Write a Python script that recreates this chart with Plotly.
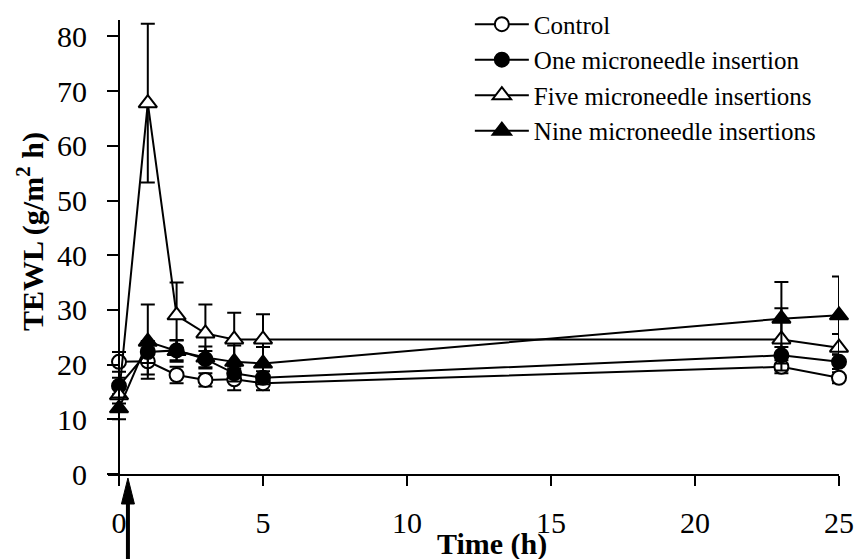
import plotly.graph_objects as go

time_h = [0, 1, 2, 3, 4, 5, 23, 25]
control = [20.5, 20.6, 18.1, 17.2, 17.3, 16.6, 19.6, 17.6]
control_err = [1.8, 2.4, 1.5, 1.2, 2.0, 1.3, 1.2, 1.0]
one = [16.1, 22.3, 22.6, 21.0, 18.4, 17.6, 21.7, 20.5]
one_err = [1.5, 2.0, 1.8, 1.5, 1.5, 1.2, 1.5, 1.3]
five = [14.4, 67.8, 29.0, 25.7, 24.6, 24.6, 24.6, 23.1]
five_err = [1.5, 14.5, 6.0, 5.3, 4.9, 4.6, 5.7, 2.5]
nine = [12.0, 24.2, 22.5, 21.3, 20.5, 20.2, 28.4, 29.0]
nine_err = [2.0, 6.8, 2.0, 2.0, 3.0, 3.0, 6.7, 7.1]

names = ["Control", "One microneedle insertion", "Five microneedle insertions",
         "Nine microneedle insertions"]
series = [control, one, five, nine]
errors = [control_err, one_err, five_err, nine_err]
symbols = ["circle", "circle", "triangle-up", "triangle-up"]
fills = ["white", "black", "white", "black"]
sizes = [14, 14, 16, 16]

FONT = "Liberation Serif"

fig = go.Figure()
for nm, ys, er, sym, fc, sz in zip(names, series, errors, symbols, fills, sizes):
    fig.add_trace(go.Scatter(
        x=time_h, y=ys, name=nm, mode="lines+markers",
        line=dict(color="black", width=2),
        marker=dict(symbol=sym, size=sz, color=fc, line=dict(color="black", width=2)),
        error_y=dict(type="data", array=er, visible=True, color="black",
                     thickness=2, width=7),
        cliponaxis=False,
    ))

W, H = 854, 559
ml, mr, mt, mb = 108, 15, 20, 85
pw = W - ml - mr
ph = H - mt - mb
xmin, xmax = -0.382, 25
ymin, ymax = 0, 83


def px_x(v):
    return (v - xmin) / (xmax - xmin)


def paper_x(pix):
    return (pix - ml) / pw


def paper_y(pix):
    return (H - mb - pix) / ph


# arrow marking time of insertion
ax_data = 0.31
xc = px_x(ax_data)
hw = 6.5 / pw
fig.add_shape(type="line", xref="paper", yref="paper",
              x0=xc, x1=xc, y0=paper_y(500), y1=paper_y(570),
              line=dict(color="black", width=4))
fig.add_shape(type="path", xref="paper", yref="paper",
              path=f"M {xc},{paper_y(478)} L {xc-hw},{paper_y(504)} L {xc+hw},{paper_y(504)} Z",
              fillcolor="black", line=dict(color="black", width=1))

# axis titles
fig.add_annotation(text="<b>Time (h)</b>", xref="paper", yref="paper",
                   x=paper_x(492), y=paper_y(544), showarrow=False,
                   xanchor="center", yanchor="middle",
                   font=dict(family=FONT, size=30, color="black"))
fig.add_annotation(text="<b>TEWL (g/m<sup>2</sup> h)</b>", xref="paper", yref="paper",
                   x=paper_x(31), y=paper_y(232), showarrow=False, textangle=-90,
                   xanchor="center", yanchor="middle",
                   font=dict(family=FONT, size=30, color="black"))

fig.update_layout(
    width=W, height=H,
    margin=dict(l=ml, r=mr, t=mt, b=mb, autoexpand=False),
    paper_bgcolor="white", plot_bgcolor="white",
    font=dict(family=FONT, color="black"),
    showlegend=True,
    legend=dict(x=0.495, y=1.041, xanchor="left", yanchor="top",
                font=dict(family=FONT, size=25, color="black"),
                bgcolor="rgba(0,0,0,0)", itemwidth=54, tracegroupgap=0),
    xaxis=dict(range=[xmin, xmax], tickvals=[0, 5, 10, 15, 20, 25],
               showline=True, linecolor="black", linewidth=2,
               ticks="outside", ticklen=10, tickwidth=2, tickcolor="black",
               showgrid=False, zeroline=False, automargin=False,
               tickfont=dict(family=FONT, size=30),
               ticklabelstandoff=11),
    yaxis=dict(range=[ymin, ymax], tickvals=[0, 10, 20, 30, 40, 50, 60, 70, 80],
               anchor="free", position=px_x(0),
               showline=True, linecolor="black", linewidth=2,
               ticks="outside", ticklen=11, tickwidth=2, tickcolor="black",
               showgrid=False, zeroline=False, automargin=False,
               tickfont=dict(family=FONT, size=30),
               ticklabelstandoff=14),
)

fig.write_html("out.html", config={"displayModeBar": False},
               post_script="document.body.style.margin='0';document.body.style.padding='0';")
